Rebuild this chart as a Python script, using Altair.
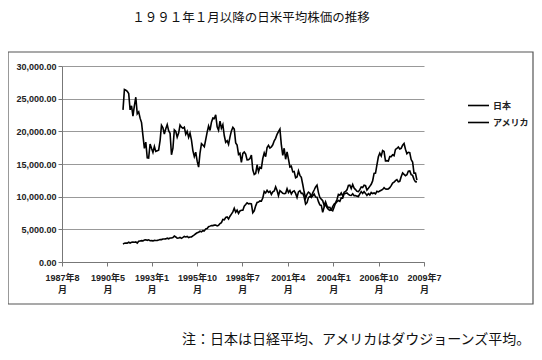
import altair as alt
import pandas as pd

TITLE = "１９９１年１月以降の日米平均株価の推移"
NOTE = "注：日本は日経平均、アメリカはダウジョーンズ平均。"
SERIES = ["日本", "アメリカ"]

# x-axis tick dates (year, month)
TICKS = [(1987, 8), (1990, 5), (1993, 1), (1995, 10), (1998, 7),
         (2001, 4), (2004, 1), (2006, 10), (2009, 7)]
Y_TICKS = [0, 5000, 10000, 15000, 20000, 25000, 30000]

# first and last plotted point as read on the chart's date axis
START, END = "1991-04-11", "2009-01-25"

# Nikkei average, monthly values
nikkei = [
    23290, 26410, 26290, 26110, 25790, 23290, 23900, 22340, 23920, 25220, 22690, 22980,
    22020, 21340, 19350, 17390, 18350, 15950, 15910, 18060, 17400, 16770, 17680, 16920,
    17020, 17110, 18590, 20920, 20550, 19590, 20380, 21030, 20110, 19700, 16410, 17420,
    20230, 20000, 19110, 19730, 20970, 20640, 20460, 20630, 19560, 19990, 19080, 19720,
    18650, 17050, 16140, 16810, 15440, 14520, 16680, 18120, 17910, 17650, 18740, 19870,
    20810, 20130, 21410, 22040, 21960, 22530, 20690, 20170, 21560, 20470, 21020, 19360,
    18330, 18560, 18000, 19150, 20070, 20610, 20330, 18230, 17890, 16460, 16640, 15260,
    16630, 16830, 16530, 15640, 15670, 15830, 16380, 14110, 13410, 13560, 14880, 13840,
    14500, 14370, 15840, 16700, 16110, 17530, 17860, 17440, 17610, 17940, 18560, 18930,
    19540, 19960, 20340, 17970, 16330, 17410, 15730, 16860, 15750, 14540, 14650, 13790,
    13840, 12880, 13000, 13930, 13260, 12970, 11860, 10710, 9770, 10370, 10700, 10540,
    10000, 10590, 11020, 11490, 11760, 10620, 9880, 9620, 9380, 8640, 9220, 8580,
    8340, 8360, 7970, 7830, 8420, 9080, 9560, 10340, 10220, 10560, 10100, 10680,
    10780, 11040, 11720, 11760, 11240, 11860, 11330, 11080, 10820, 10770, 11070, 11490,
    11390, 11740, 11670, 11010, 11280, 11580, 11900, 12410, 13570, 13610, 14870, 16110,
    16650, 16210, 17060, 16910, 15470, 15510, 15460, 16140, 16130, 16400, 16270, 17230,
    17380, 17600, 17290, 17400, 17880, 18140, 17250, 16570, 16790, 16740, 15680, 15310,
    13590, 13600, 12530,
]

# Dow Jones average, monthly values
dow = [
    2740, 2880, 2910, 2890, 3030, 2910, 3020, 3040, 3020, 3070, 2890, 3170,
    3220, 3270, 3240, 3360, 3400, 3320, 3390, 3260, 3270, 3230, 3310, 3300,
    3310, 3370, 3440, 3430, 3530, 3520, 3540, 3650, 3560, 3680, 3680, 3750,
    3980, 3830, 3640, 3680, 3760, 3620, 3760, 3910, 3840, 3910, 3740, 3830,
    3840, 4010, 4160, 4320, 4470, 4560, 4710, 4610, 4790, 4760, 5070, 5120,
    5400, 5490, 5590, 5570, 5640, 5650, 5530, 5620, 5880, 6030, 6520, 6450,
    6810, 6880, 6580, 7010, 7330, 7670, 8220, 7620, 7950, 7440, 7820, 7910,
    7910, 8550, 8800, 9060, 8900, 8950, 8880, 7540, 7840, 8590, 9120, 9180,
    9360, 9310, 9790, 10790, 10560, 10970, 10660, 10830, 10340, 10730, 10880, 11500,
    10940, 10130, 10920, 10730, 10520, 10450, 10520, 11220, 10650, 10970, 10410, 10790,
    10890, 10500, 9880, 10730, 10910, 10500, 10520, 9950, 8850, 9080, 9850, 10020,
    9920, 10110, 10400, 9950, 9930, 9240, 8740, 8660, 7590, 8400, 8900, 8340,
    8050, 7890, 7990, 8480, 8850, 8990, 9230, 9420, 9280, 9800, 9780, 10450,
    10490, 10580, 10360, 10230, 10190, 10440, 10140, 10170, 10080, 10030, 10430, 10780,
    10490, 10770, 10500, 10190, 10470, 10270, 10640, 10480, 10570, 10440, 10810, 10720,
    10860, 10990, 11110, 11370, 11170, 11150, 11190, 11380, 11680, 12080, 12220, 12460,
    12620, 12270, 12350, 13060, 13630, 13410, 13210, 13360, 13900, 13930, 13370, 13260,
    12650, 12270, 12260,
]

FONT = "Liberation Sans, Noto Sans CJK JP"
CJK = "Noto Sans CJK JP"

dates = [d.strftime("%Y-%m-%dT00:00:00") for d in pd.date_range(START, END, periods=len(nikkei))]
df = pd.DataFrame({
    "date": dates + dates,
    "series": [SERIES[0]] * len(nikkei) + [SERIES[1]] * len(dow),
    "value": nikkei + dow,
})

tick_values = [alt.DateTime(year=y, month=m, date=1) for y, m in TICKS]

x_enc = alt.X(
    "date:T",
    scale=alt.Scale(domain=[tick_values[0], tick_values[-1]]),
    axis=alt.Axis(
        values=tick_values,
        labelExpr="[timeFormat(datum.value, '%Y') + '年' + (month(datum.value) + 1), '月']",
        title=None, grid=False, labelAngle=0, labelFlush=False, labelOverlap=False,
        domainColor="#777777", tickColor="#777777", tickSize=4, labelPadding=7.5,
        labelLineHeight=11.5, labelFont=FONT, labelFontSize=9, labelFontWeight="bold",
        labelColor="#222222",
    ),
)
y_enc = alt.Y(
    "value:Q",
    scale=alt.Scale(domain=[0, 30000], nice=False),
    axis=alt.Axis(
        values=Y_TICKS, format=",.2f", title=None, grid=True, gridColor="#999999",
        gridWidth=1, domainColor="#777777", tickColor="#777777", tickSize=4,
        labelPadding=2, labelFont=FONT, labelFontSize=9, labelFontWeight="bold",
        labelColor="#222222",
    ),
)

lines = alt.Chart(df).mark_line(strokeWidth=1.6).encode(
    x=x_enc,
    y=y_enc,
    color=alt.Color(
        "series:N",
        scale=alt.Scale(domain=SERIES, range=["#000000", "#000000"]),
        legend=alt.Legend(
            title=None, orient="none", legendX=405, legendY=28, symbolType="stroke",
            symbolSize=441, symbolStrokeWidth=1.6, labelFont=FONT, labelFontSize=9,
            labelFontWeight="bold", labelColor="#222222", labelOffset=3, rowPadding=-3,
            padding=0,
        ),
        sort=SERIES,
    ),
    detail="series:N",
)

one = pd.DataFrame({"title": [TITLE], "note": [NOTE]})

# chart frame around plot and legend (outline only)
frame = alt.Chart(one).mark_rect(
    fill="white", fillOpacity=0, stroke="#555555", strokeWidth=1.2
).encode(
    x=alt.value(-54), x2=alt.value(471), y=alt.value(-14), y2=alt.value(238),
    detail="title:N",
)
title = alt.Chart(one).mark_text(
    font=CJK, fontSize=12.5, align="center", baseline="middle", color="#111111"
).encode(text="title:N", x=alt.value(189), y=alt.value(-48.5))
note = alt.Chart(one).mark_text(
    font=CJK, fontSize=14, align="left", baseline="middle", color="#111111"
).encode(text="note:N", x=alt.value(120), y=alt.value(274))

chart = alt.layer(frame, lines, title, note).properties(
    width=362, height=196,
    padding={"left": 54, "top": 58, "right": 110, "bottom": 86},
    autosize=alt.AutoSizeParams(type="none"),
    background="white",
).configure_view(strokeWidth=0)

chart.save("out.html", embed_options={"renderer": "svg", "actions": False})
